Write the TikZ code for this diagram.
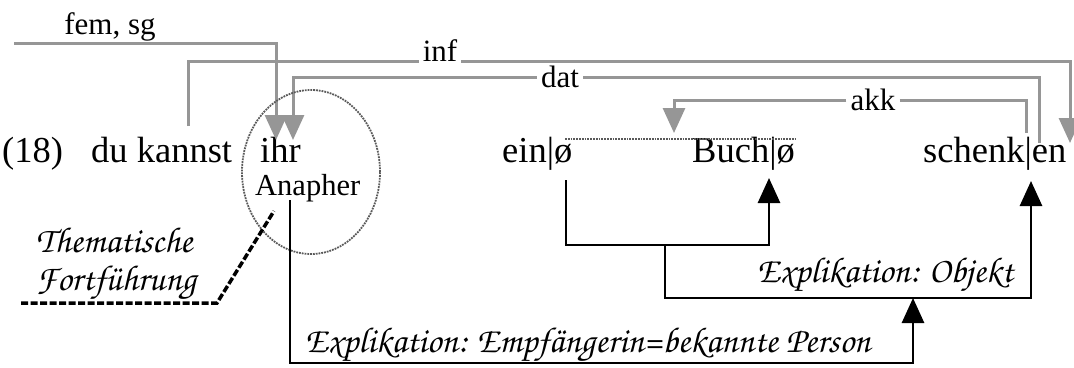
\documentclass[tikz,border=0pt]{standalone}
\usepackage[T1]{fontenc}
\usepackage{fontspec}
\setmainfont{Liberation Serif}
\usetikzlibrary{arrows.meta}
\definecolor{linegray}{RGB}{150,150,150}

\begin{document}
\begin{tikzpicture}[x=1pt,y=-1pt,
   word/.style={anchor=base west,inner sep=0pt,font=\fontsize{36.5}{40}\selectfont},
   lab/.style={inner xsep=4pt,inner ysep=0pt,font=\fontsize{31}{34}\selectfont},
   note/.style={anchor=base west,inner sep=0pt,
     font=\fontencoding{T1}\fontfamily{pzc}\fontseries{mb}\fontshape{it}\fontsize{36}{38}\selectfont},
   grayline/.style={draw=linegray,line width=3pt},
   grayarr/.style={grayline,-{Triangle[width=22pt,length=25pt]}},
   blackline/.style={draw=black,line width=2.8pt},
   blackarr/.style={blackline,-{Triangle[width=22pt,length=25pt]}}]
   \useasboundingbox (0,0) rectangle (1074,367);
   % the sentence
   \node (ex) at (2,162) [word] {(18)};
   \node (du) at (91,162) [word] {du kannst};
   \node (ihr) at (260,162) [word] {ihr};
   \node (ana) at (255,195) [word,font=\fontsize{30.5}{33}\selectfont] {Anapher};
   \node (ein) at (502,162) [word] {ein|ø};
   \node (buch) at (692,162) [word] {Buch|ø};
   \node (schenk) at (923,162) [word] {schenk|en};
   % grey labels
   \node (femsg) at (110,34) [lab,anchor=base] {fem, sg};
   \node (inf) at (440,61) [lab,anchor=base] {inf};
   \node (dat) at (560,77) [lab] {dat};
   \node (akk) at (873,100) [lab] {akk};
   \coordinate (femfrom) at (14,43);
   \coordinate (ihrfem) at (276,140);
   \coordinate (ihrdat) at (293,140);
   \coordinate (kannst) at (188,126);
   \coordinate (eninf) at (1070,143);
   \coordinate (endat) at (1039,143);
   \coordinate (enakk) at (1026,133);
   \coordinate (buchakk) at (674,133);
   \draw[grayarr] (femfrom) -| (ihrfem);
   \draw[grayline] (kannst) |- (inf.base west);
   \draw[grayarr] (inf.base east) -| (eninf);
   \draw[grayarr] (dat.west) -| (ihrdat);
   \draw[grayline] (dat.east) -| (endat);
   \draw[grayarr] (akk.west) -| (buchakk);
   \draw[grayline] (akk.east) -| (enakk);
   % phrase bracket and ring
   \draw[linegray!60!black,line width=1.8pt,densely dotted] (565,139) -- (795,139);
   \draw[linegray!60!black,line width=1.8pt,densely dotted] (311,172) ellipse [x radius=69pt,y radius=82pt];
   % black explications
   \coordinate (einfoot) at (566,180);
   \coordinate (buchbar) at (769,178);
   \coordinate (enbar) at (1031,181);
   \coordinate (objstem) at (665,245);
   \coordinate (anafoot) at (290,200);
   \coordinate (objjoin) at (913,298);
   \draw[blackarr] (einfoot) -- ++(0,65) -| (buchbar);
   \draw[blackarr] (objstem) -- ++(0,53) -| (enbar);
   \draw[blackarr] (anafoot) -- ++(0,163) -| (objjoin);
   \node (obj) at (757,282) [note] {Explikation: Objekt};
   \node (empf) at (305,352) [note] {Explikation: Empf\"angerin=bekannte Person};
   % thematic line
   \node (them) at (36,252) [note] {Thematische};
   \node (fort) at (36,290) [note] {Fortf\"uhrung};
   \coordinate (themfrom) at (21,303);
   \coordinate (anaring) at (274,211);
   \draw[line width=3.5pt,dash pattern=on 7pt off 2.5pt] (themfrom) -- (217,303) -- (anaring);
\end{tikzpicture}
\end{document}
